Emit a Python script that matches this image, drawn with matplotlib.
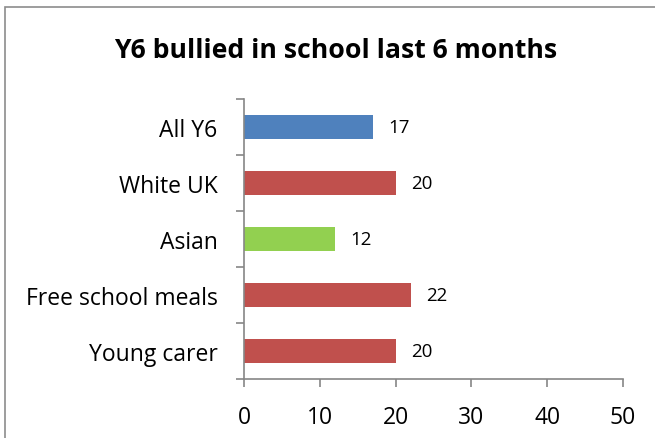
import matplotlib
matplotlib.use("Agg")
import matplotlib.pyplot as plt
from matplotlib.patches import Rectangle

categories = ["All Y6", "White UK", "Asian", "Free school meals", "Young carer"]
values = [17, 20, 12, 22, 20]
colors = ["#4F81BD", "#C0504D", "#92D050", "#C0504D", "#C0504D"]
xticks = [0, 10, 20, 30, 40, 50]
title = "Y6 bullied in school last 6 months"

plt.rcParams['font.family'] = ['Open Sans', 'DejaVu Sans']

W, H = 655, 439
fig = plt.figure(figsize=(W/100, H/100), dpi=100)
fig.patches.append(Rectangle((5/W, -0.2), 1, 1.2 - 8/H, transform=fig.transFigure,
                             fill=False, edgecolor="#8c8c8c", linewidth=1.2))

ax = fig.add_axes([244/W, 1 - 380/H, (623-244)/W, (380-100)/H])
pos = list(range(len(categories)))
ax.barh(pos, values, height=0.42, color=colors, edgecolor="none")
ax.set_ylim(len(categories) - 0.5, -0.5)
ax.set_xlim(0, 50)
ax.set_xticks(xticks)
ax.set_xticklabels([str(t) for t in xticks], fontsize=16.5)
ax.set_yticks([p - 0.5 for p in pos] + [len(categories) - 0.5])
ax.set_yticklabels([])
ax.set_yticks(pos, minor=True)
ax.set_yticklabels(categories, minor=True, fontsize=16.5)
ax.tick_params(axis='y', which='minor', length=0, pad=19)
ax.tick_params(axis='y', which='major', length=6, color="#868686", width=1.2)
ax.tick_params(axis='x', length=6, color="#868686", width=1.2, pad=13)
for s in ['top', 'right']:
    ax.spines[s].set_visible(False)
for s in ['left', 'bottom']:
    ax.spines[s].set_color("#868686")
    ax.spines[s].set_linewidth(1.2)
for p, v in zip(pos, values):
    ax.annotate(str(v), (v, p), xytext=(11, 0), textcoords='offset points',
                va='center', ha='left', fontsize=13.5)

fig.text(336/W, 1 - 51/H, title, ha='center', va='center', fontsize=19.2, fontweight='bold')
fig.savefig("out.png", dpi=100)
